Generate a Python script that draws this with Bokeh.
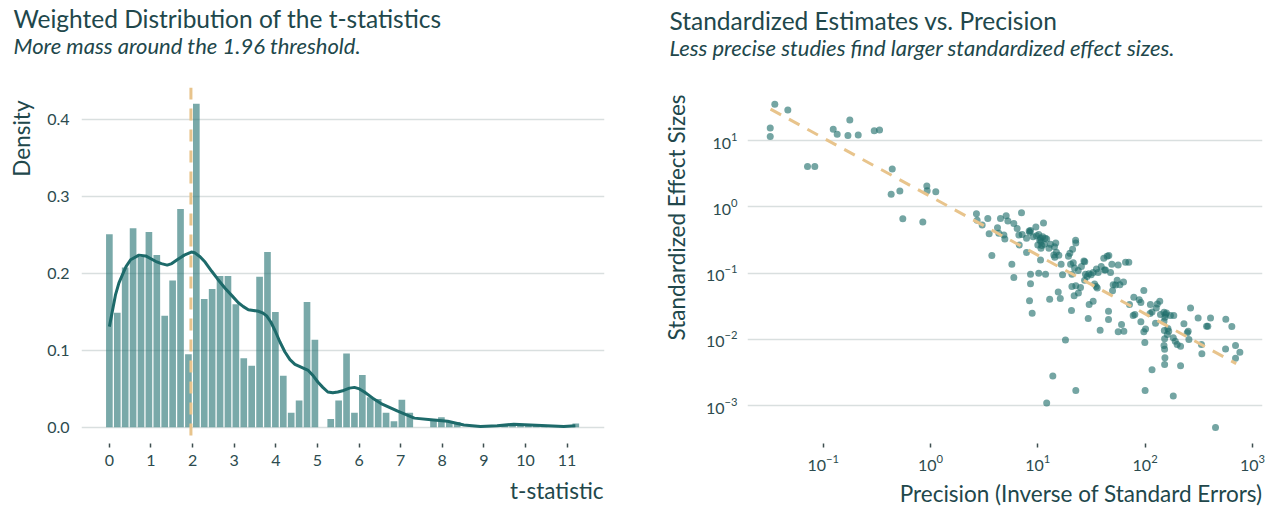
from bokeh.plotting import figure
from bokeh.models import Title, Span, FixedTicker, PrintfTickFormatter
from bokeh.layouts import row
from bokeh.embed import file_html
from bokeh.resources import INLINE

FONT = "Lato"
TXT = "#21474b"
LBL = "#2c4b4e"
GRID = "#d9dfdf"
BAR = "#1f6f6f"
CURVE = "#1d6a6a"
DASH = "#e8c48c"
PT = "#1e6e6a"

# ---------------- left panel data ----------------
t_bins = [0.00, 0.19, 0.38, 0.57, 0.76, 0.95, 1.14, 1.33, 1.52, 1.71,
          1.90, 2.09, 2.28, 2.47, 2.66, 2.85, 3.04, 3.23, 3.42, 3.61,
          3.80, 3.99, 4.18, 4.37, 4.56, 4.75, 4.94, 5.13, 5.32, 5.51,
          5.70, 5.89, 6.08, 6.27, 6.46, 6.65, 6.84, 7.03, 7.22, 7.41,
          7.60, 7.79, 7.98, 8.17, 8.36, 8.55, 8.74, 8.93, 9.12, 9.31,
          9.50, 9.69, 9.88, 10.07, 10.26, 10.45, 10.64, 10.83, 11.02, 11.21]
bar_density = [0.251, 0.149, 0.208, 0.259, 0.222, 0.254, 0.224, 0.145, 0.191, 0.284,
               0.095, 0.421, 0.167, 0.180, 0.197, 0.197, 0.160, 0.090, 0.080, 0.196,
               0.228, 0.150, 0.067, 0.019, 0.035, 0.163, 0.114, 0.000, 0.011, 0.035,
               0.096, 0.019, 0.068, 0.039, 0.037, 0.019, 0.008, 0.036, 0.019, 0.000,
               0.000, 0.009, 0.013, 0.007, 0.007, 0.000, 0.000, 0.000, 0.000, 0.000,
               0.002, 0.003, 0.003, 0.003, 0.003, 0.003, 0.000, 0.000, 0.000, 0.005]

kde_t = [0.00, 0.05, 0.15, 0.23, 0.31, 0.40, 0.51, 0.71, 0.87, 1.11, 1.25, 1.39, 1.50,
         1.63, 1.80, 1.97, 2.05, 2.18, 2.30, 2.46, 2.60, 2.78, 2.95, 3.10, 3.22, 3.34,
         3.46, 3.58, 3.68, 3.78, 3.88, 3.98, 4.10, 4.22, 4.34, 4.46, 4.62, 4.78, 4.90,
         5.01, 5.13, 5.25, 5.37, 5.49, 5.63, 5.77, 5.89, 6.01, 6.13, 6.33, 6.53, 6.73,
         6.93, 7.33, 7.73, 8.13, 8.52, 8.92, 9.32, 9.72, 10.12, 10.52, 10.92, 11.20]
kde_d = [0.131, 0.145, 0.173, 0.188, 0.198, 0.209, 0.218, 0.224, 0.223, 0.216, 0.213, 0.211, 0.213,
         0.218, 0.224, 0.228, 0.227, 0.222, 0.215, 0.203, 0.193, 0.181, 0.171, 0.162, 0.157, 0.153,
         0.152, 0.151, 0.149, 0.145, 0.137, 0.126, 0.111, 0.098, 0.088, 0.082, 0.078, 0.074, 0.067,
         0.059, 0.052, 0.046, 0.045, 0.046, 0.048, 0.051, 0.052, 0.050, 0.046, 0.038, 0.031, 0.026,
         0.021, 0.012, 0.010, 0.008, 0.003, 0.001, 0.002, 0.004, 0.003, 0.002, 0.001, 0.002]
threshold = 1.96
x_ticks_left = [0, 1, 2, 3, 4, 5, 6, 7, 8, 9, 10, 11]
y_ticks_left = [0.0, 0.1, 0.2, 0.3, 0.4]

# ---------------- right panel data ----------------
precision = [0.0354, 0.0468, 0.0321, 0.0321, 0.0714, 0.0835, 0.124, 0.135, 0.177, 0.170,
             0.212, 0.299, 0.335, 0.440, 0.430, 0.518, 0.552, 0.924, 0.931, 1.12, 0.848,
             2.68, 2.72, 3.03, 3.42, 3.52, 3.73, 4.21, 4.33, 4.49, 4.83,
             4.93, 5.07, 5.26, 5.98, 6.42, 6.71, 7.05, 6.66, 7.15, 7.85,
             7.85, 8.31, 8.55, 9.05, 9.59, 9.72, 10.0, 10.2, 10.6, 10.7,
             10.7, 11.1, 11.3, 11.5, 11.7, 12.1, 11.8, 10.6, 8.55, 10.2,
             8.55, 8.37, 8.86, 5.73, 5.98, 12.7, 13.1, 14.3, 14.7, 14.9,
             14.4, 15.7, 16.5, 17.0, 15.5, 16.2, 12.9, 19.3, 19.9, 21.1,
             20.2, 20.8, 21.4, 22.5, 22.6, 22.0, 23.8, 25.5, 26.9, 27.4,
             27.8, 28.8, 27.3, 29.9, 31.4, 32.8, 35.2, 36.5, 39.0, 41.2,
             41.8, 44.3, 45.9, 47.6, 49.0, 50.4, 49.7, 53.0, 54.9, 56.1,
             58.2, 62.9, 65.7, 70.5, 20.8, 22.6, 21.8, 23.9, 25.0, 30.1,
             32.8, 33.8, 35.8, 20.6, 29.5, 38.1, 45.6, 45.6, 56.1, 60.3,
             63.4, 71.5, 78.5, 77.4, 80.2, 88.1, 91.3, 97.3, 91.3, 101,
             97.3, 99.4, 112, 111, 116, 125, 127, 130, 137, 139,
             150, 155, 158, 172, 185, 150, 151, 163, 166, 152,
             183, 191, 199, 214, 230, 247, 252, 256, 150, 152,
             153, 152, 214, 265, 312, 335, 338, 374, 384, 407,
             565, 643, 562, 696, 764, 696, 18.1, 13.8, 22.6, 12.1,
             116, 100, 183, 453, 10.4, 10.9, 8.43, 153, 161, 42.7,
             35.0, 14.1]
effect = [35.4, 28.8, 15.5, 11.5, 4.07, 4.07, 14.8, 12.4, 20.4, 11.9,
          12.1, 14.1, 14.4, 3.71, 1.55, 1.74, 0.660, 2.06, 1.75, 1.69, 0.589,
          0.784, 0.630, 0.530, 0.668, 0.393, 0.184, 0.484, 0.398, 0.668, 0.375,
          0.327, 0.732, 0.609, 0.562, 0.473, 0.266, 0.812, 0.375, 0.384, 0.204,
          0.335, 0.431, 0.441, 0.354, 0.495, 0.367, 0.266, 0.384, 0.335, 0.298,
          0.237, 0.354, 0.568, 0.272, 0.335, 0.327, 0.0965, 0.158, 0.0965, 0.0999,
          0.0691, 0.0384, 0.0248, 0.136, 0.0860, 0.237, 0.272, 0.251, 0.285, 0.206,
          0.174, 0.186, 0.136, 0.0943, 0.0518, 0.0416, 0.0402, 0.180, 0.199, 0.229,
          0.136, 0.0965, 0.144, 0.312, 0.285, 0.119, 0.110, 0.126, 0.153, 0.149,
          0.0965, 0.0890, 0.0784, 0.0976, 0.0943, 0.102, 0.115, 0.102, 0.126, 0.168,
          0.111, 0.180, 0.184, 0.102, 0.136, 0.0668, 0.0543, 0.0660, 0.0784, 0.133,
          0.0668, 0.0732, 0.146, 0.146, 0.0630, 0.0645, 0.0457, 0.0501, 0.0609, 0.0335,
          0.0375, 0.0683, 0.0595, 0.0272, 0.0206, 0.0138, 0.0266, 0.0199, 0.0130, 0.0168,
          0.0133, 0.0335, 0.0431, 0.0229, 0.0237, 0.0398, 0.0359, 0.0549, 0.0184, 0.0143,
          0.0130, 0.0090, 0.0335, 0.0245, 0.0260, 0.0176, 0.0298, 0.0342, 0.0375, 0.0237,
          0.0257, 0.0237, 0.0251, 0.0229, 0.0229, 0.0188, 0.0136, 0.0146, 0.0133, 0.0102,
          0.0106, 0.0094, 0.0084, 0.0079, 0.0172, 0.0126, 0.0133, 0.0100, 0.0081, 0.0071,
          0.0053, 0.0042, 0.0040, 0.0298, 0.0211, 0.0084, 0.0061, 0.0158, 0.0158, 0.0211,
          0.0202, 0.0157, 0.0072, 0.0081, 0.0064, 0.0052, 0.0098, 0.0028, 0.0017, 0.0011,
          0.0035, 0.0017, 0.0014, 0.00047, 0.316, 0.260, 0.412, 0.0216, 0.0119, 0.111,
          0.0630, 0.188]
fit_precision = [0.0323, 706]
fit_effect = [29.8, 0.00431]
x_ticks_right = [0.1, 1, 10, 100, 1000]
y_ticks_right = [0.001, 0.01, 0.1, 1, 10]


def style_common(p):
    p.background_fill_color = "white"
    p.border_fill_color = "white"
    p.outline_line_color = None
    p.xgrid.grid_line_color = None
    p.ygrid.grid_line_color = GRID
    p.ygrid.grid_line_width = 1.3
    for ax in (p.xaxis[0], p.yaxis[0]):
        ax.axis_line_color = None
        ax.minor_tick_line_color = None
        ax.major_label_text_font = FONT
        ax.major_label_text_font_size = "16px"
        ax.major_label_text_color = LBL
    p.xaxis.major_tick_line_color = "#3f4f50"
    p.xaxis.major_tick_line_width = 1.5
    p.xaxis.major_tick_in = 0
    p.xaxis.major_tick_out = 4
    p.xaxis.major_label_standoff = 7
    p.yaxis.major_tick_line_color = None
    p.yaxis.major_tick_in = 0
    p.yaxis.major_tick_out = 0


def add_titles(p, title, subtitle, offset, spacer_standoff, main_standoff):
    # outermost: main title
    p.title.text = title
    p.title.align = "left"
    p.title.offset = offset
    p.title.text_font = FONT
    p.title.text_font_style = "normal"
    p.title.text_font_size = "24.5px"
    p.title.text_color = TXT
    p.title.standoff = main_standoff
    # closest to the frame: an invisible spacer, then the subtitle
    spacer = Title(text=" ", text_font=FONT, text_font_size="10px",
                   text_color="white", standoff=spacer_standoff)
    p.add_layout(spacer, "above")
    sub = Title(text=subtitle, align="left", offset=offset, text_font=FONT,
                text_font_style="italic", text_font_size="22px",
                text_color=TXT, standoff=0)
    p.add_layout(sub, "above")


def add_xlabel(p, text, standoff, offset):
    p.add_layout(Title(text=text, align="right", vertical_align="bottom", text_font=FONT,
                       text_font_style="normal", text_font_size="22.5px",
                       text_color=TXT, standoff=standoff, offset=offset), "below")


def add_ylabel(p, text, standoff, offset, valign):
    p.add_layout(Title(text=text, align="right", vertical_align=valign, text_font=FONT,
                       text_font_style="normal", text_font_size="22.5px",
                       text_color=TXT, standoff=standoff, offset=offset), "left")


# ---------------- left figure (frame: x 80..604, y 87..447) ----------------
p1 = figure(width=620, height=512, x_range=(-0.67, 11.9), y_range=(-0.021, 0.442),
            output_backend="svg", toolbar_location=None,
            min_border_left=80, min_border_right=16, min_border_top=87, min_border_bottom=65)
style_common(p1)
p1.xaxis.ticker = FixedTicker(ticks=x_ticks_left)
p1.yaxis.ticker = FixedTicker(ticks=y_ticks_left)
p1.yaxis.formatter = PrintfTickFormatter(format="%.1f")
p1.yaxis.major_label_standoff = 12
add_titles(p1, "Weighted Distribution of the t-statistics",
           "More mass around the 1.96 threshold.", -68, 15.4, -6)
add_xlabel(p1, "t-statistic", 12, 1)
add_ylabel(p1, "Density", 15, 13, "top")

p1.vbar(x=t_bins, top=bar_density, width=0.16, fill_color=BAR, fill_alpha=0.6,
        line_color=None)
p1.line(kde_t, kde_d, line_color=CURVE, line_width=3)
p1.add_layout(Span(location=threshold, dimension="height", line_color=DASH,
                   line_width=3, line_dash="12 9"))

# ---------------- right figure (frame: page x 747..1262, y 85..443) ----------------
p2 = figure(width=654, height=512, x_axis_type="log", y_axis_type="log",
            x_range=(10 ** -1.7055, 10 ** 3.094), y_range=(10 ** -3.57, 10 ** 1.80),
            output_backend="svg", toolbar_location=None,
            min_border_left=127, min_border_right=12, min_border_top=85, min_border_bottom=69)
style_common(p2)
p2.xaxis.ticker = FixedTicker(ticks=x_ticks_right)
p2.yaxis.ticker = FixedTicker(ticks=y_ticks_right)
p2.yaxis.major_label_standoff = 10
add_titles(p2, "Standardized Estimates vs. Precision",
           "Less precise studies find larger standardized effect sizes.", -78, 13.4, -6)
add_xlabel(p2, "Precision (Inverse of Standard Errors)", 8, 0)
add_ylabel(p2, "Standardized Effect Sizes", 25, 7, "bottom")

p2.scatter(precision, effect, size=7, fill_color=PT, fill_alpha=0.62, line_color=None)
p2.line(fit_precision, fit_effect, line_color=DASH, line_width=3, line_dash="12 9")

layout = row(p1, p2)
open("out.html", "w").write(file_html(layout, INLINE))
